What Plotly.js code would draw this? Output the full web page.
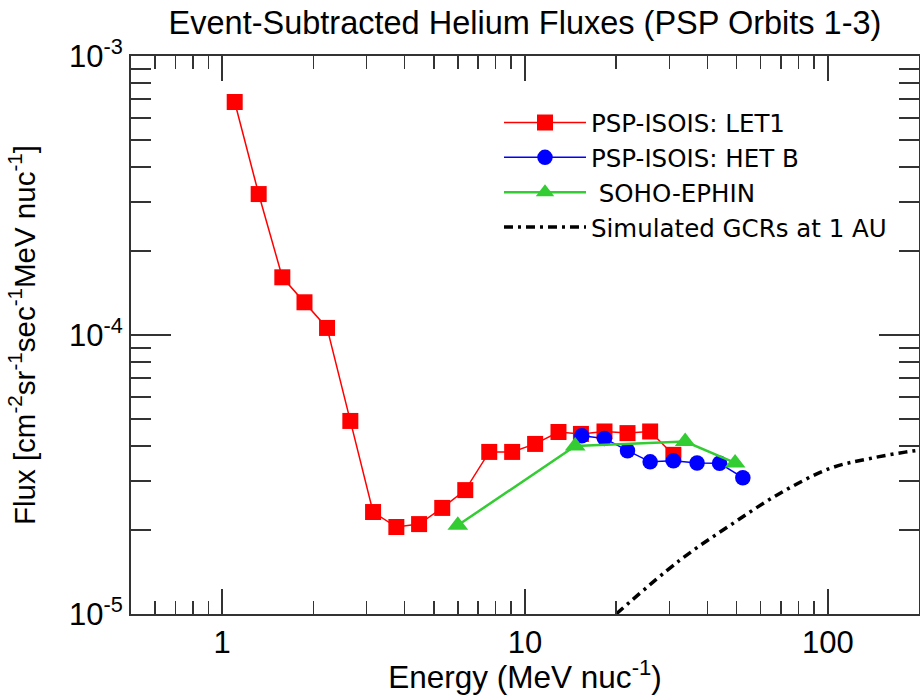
<!DOCTYPE html>
<html>
<head>
<meta charset="utf-8">
<script src="https://cdn.plot.ly/plotly-3.0.1.min.js"></script>
<style>
  html, body { margin: 0; padding: 0; background: #fff; overflow: hidden; }
  #chart { width: 920px; height: 695px; }
</style>
</head>
<body>
<div id="chart"></div>
<script>
// ---- Data ----
const let1Energy = [1.10, 1.32, 1.58, 1.87, 2.22, 2.65, 3.15, 3.76, 4.47, 5.33, 6.35, 7.62, 9.07, 10.8, 12.9, 15.3, 18.3, 21.8, 25.9, 30.9];
const let1Flux   = [6.84e-4, 3.20e-4, 1.61e-4, 1.31e-4, 1.06e-4, 4.92e-5, 2.32e-5, 2.05e-5, 2.10e-5, 2.40e-5, 2.78e-5, 3.81e-5, 3.81e-5, 4.07e-5, 4.49e-5, 4.42e-5, 4.51e-5, 4.45e-5, 4.51e-5, 3.72e-5];

const hetbEnergy = [15.4, 18.3, 21.8, 25.9, 30.9, 37.0, 43.9, 52.4];
const hetbFlux   = [4.35e-5, 4.26e-5, 3.85e-5, 3.51e-5, 3.54e-5, 3.48e-5, 3.47e-5, 3.08e-5];

const ephinEnergy = [6.0, 14.65, 33.8, 49.4];
const ephinFlux   = [2.08e-5, 4.00e-5, 4.15e-5, 3.48e-5];

const gcrEnergy = [20.0, 32.5, 47.6, 69.6, 102, 138, 202, 300];
const gcrFlux   = [1.0e-5, 1.56e-5, 2.08e-5, 2.71e-5, 3.33e-5, 3.61e-5, 3.87e-5, 4.0e-5];

const seriesNames = ["PSP-ISOIS: LET1", "PSP-ISOIS: HET B", " SOHO-EPHIN", "Simulated GCRs at 1 AU"];

const xTickVals = [1, 10, 100];
const xTickText = ["1", "10", "100"];
const xMinorVals = [0.6, 0.7, 0.8, 0.9, 2, 3, 4, 5, 6, 7, 8, 9, 20, 30, 40, 50, 60, 70, 80, 90, 200];
const yTickVals = [1e-5, 1e-4, 1e-3];
const yTickText = ["10<sup>-5</sup>", "10<sup>-4</sup>", "10<sup>-3</sup>"];
const yMinorVals = [2e-5, 3e-5, 4e-5, 5e-5, 6e-5, 7e-5, 8e-5, 9e-5, 2e-4, 3e-4, 4e-4, 5e-4, 6e-4, 7e-4, 8e-4, 9e-4];

const FONT = "Liberation Sans, Arial, sans-serif";
const AXC = "#333333";

const traces = [
  {
    x: let1Energy, y: let1Flux, name: seriesNames[0], legendgroup: "a",
    type: "scatter", mode: "lines+markers",
    line: { color: "#ff0000", width: 1.5 },
    marker: { symbol: "square", size: 16, color: "#ff0000" }
  },
  {
    x: hetbEnergy, y: hetbFlux, name: seriesNames[1], legendgroup: "b",
    type: "scatter", mode: "lines+markers",
    line: { color: "#0000ff", width: 1.5 },
    marker: { symbol: "circle", size: 15.5, color: "#0000ff" }
  },
  {
    x: ephinEnergy, y: ephinFlux, name: seriesNames[2], legendgroup: "c",
    type: "scatter", mode: "lines+markers",
    line: { color: "#33cc33", width: 2.5 },
    marker: { symbol: "triangle-up", size: 18, color: "#33cc33" }
  },
  {
    x: gcrEnergy, y: gcrFlux, name: seriesNames[3], legendgroup: "d",
    type: "scatter", mode: "lines",
    line: { color: "#000000", width: 3.5, dash: "9px,5px,3px,5px", shape: "spline" }
  }
];

const layout = {
  width: 920, height: 695,
  margin: { l: 131, r: 1, t: 56, b: 81, pad: 0 },
  paper_bgcolor: "#ffffff", plot_bgcolor: "#ffffff",
  font: { family: FONT, color: "#000000", size: 28 },
  title: {
    text: "Event-Subtracted Helium Fluxes (PSP Orbits 1-3)",
    font: { family: FONT, size: 32.5, color: "#000000" },
    x: 0.5, xref: "paper", xanchor: "center",
    y: 0.968, yref: "container", yanchor: "middle"
  },
  showlegend: true,
  legend: {
    x: 0.467, y: 0.921, xanchor: "left", yanchor: "top",
    bgcolor: "rgba(0,0,0,0)", borderwidth: 0,
    font: { family: "DejaVu Sans, sans-serif", size: 24.5, color: "#000000" },
    tracegroupgap: 0, itemwidth: 82
  },
  xaxis: {
    type: "log",
    range: [Math.log10(0.5), Math.log10(200)],
    showline: true, linecolor: AXC, linewidth: 2, mirror: "allticks",
    showgrid: false, zeroline: false,
    ticks: "inside", ticklen: 25, tickwidth: 1.5, tickcolor: AXC,
    tickmode: "array", tickvals: xTickVals, ticktext: xTickText,
    tickfont: { family: FONT, size: 31, color: "#000000" },
    minor: { tickmode: "array", tickvals: xMinorVals, ticks: "inside", ticklen: 13, tickwidth: 1.5, tickcolor: AXC, showgrid: false },
    title: { text: "Energy (MeV nuc<sup>-1</sup>)", font: { family: FONT, size: 31.5, color: "#000000" }, standoff: 2 }
  },
  yaxis: {
    type: "log",
    range: [-5, -3],
    showline: true, linecolor: AXC, linewidth: 2, mirror: "allticks",
    showgrid: false, zeroline: false,
    ticks: "inside", ticklen: 40, tickwidth: 1.5, tickcolor: AXC,
    tickmode: "array", tickvals: yTickVals, ticktext: yTickText,
    tickfont: { family: FONT, size: 31, color: "#000000" },
    minor: { tickmode: "array", tickvals: yMinorVals, ticks: "inside", ticklen: 20, tickwidth: 1.5, tickcolor: AXC, showgrid: false },
    title: { text: "Flux [cm<sup>-2</sup>sr<sup>-1</sup>sec<sup>-1</sup>MeV nuc<sup>-1</sup>]", font: { family: FONT, size: 29.5, color: "#000000" }, standoff: 25 }
  }
};

Plotly.newPlot("chart", traces, layout, { displayModeBar: false, staticPlot: true });
</script>
</body>
</html>
